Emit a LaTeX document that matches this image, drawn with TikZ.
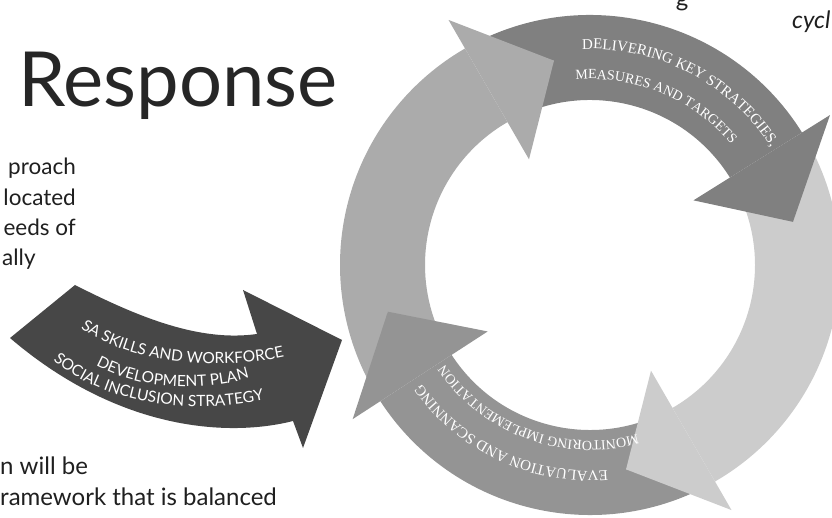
\documentclass[tikz,border=0pt]{standalone}
\usepackage{fontspec}
\setmainfont{Lato}
\newfontfamily\ringfont{Liberation Serif}
\usetikzlibrary{decorations.text}
\newcommand\ringtxt{\ringfont\fontsize{15}{15}\selectfont\color{white}}
\newcommand\ringtxtb{\ringfont\fontsize{14}{14}\selectfont\color{white}}
\newcommand\arrtxt{\fontsize{15.5}{15.5}\selectfont\color{white}}
\newcommand\ringbody[3]{%
  \fill[#3] (#1:250pt) arc[start angle=#1,end angle=#2,radius=250pt]
    -- (#2:165pt) arc[start angle=#2,end angle=#1,radius=165pt]
    -- ({#1-20}:207.5pt) -- cycle;}
\newcommand\ringhead[2]{%
  \fill[#2] (#1:283pt) -- ({#1-20}:207.5pt) -- (#1:122pt) -- cycle;}
\begin{document}
\begin{tikzpicture}[x=1pt,y=1pt,
  bodytext/.style={inner sep=0pt, font=\fontsize{24}{28}\selectfont, text=black!88},
  sidetext/.style={inner sep=0pt, font=\fontsize{22.5}{26}\selectfont, text=black!88},
  segL/.style={fill=black!33},
  segT/.style={fill=black!50},
  segR/.style={fill=black!20},
  segB/.style={fill=black!42},
  bigarrow/.style={fill=black!72}]
\useasboundingbox (0,0) rectangle (832,517);

% ---- text on the left ----
\node[inner sep=0pt, anchor=base west, font=\fontsize{76}{84}\selectfont, text=black!85] (title) at (18,410) {Response};
\node[sidetext, anchor=base east] (l1) at (76,342) {proach};
\node[sidetext, anchor=base east] (l2) at (76,311) {located};
\node[sidetext, anchor=base east] (l3) at (76,281) {eeds of};
\node[sidetext, anchor=base west] (l4) at (2,251) {ally};
\node[bodytext, anchor=base west] (l5) at (0,43) {n will be};
\node[bodytext, anchor=base west] (l6) at (0,12) {ramework that is balanced};
\node[bodytext, anchor=base] (tg) at (682,510) {g};
\node[bodytext, anchor=base west, font=\fontsize{24}{28}\selectfont\itshape] (tc) at (792,488) {cycl};

% ---- ring of four arrows ----
\coordinate (C) at (590,252);
\begin{scope}[shift={(C)}]
  \ringbody{213}{120}{segL}
  \ringbody{120}{32}{segT}
  \ringbody{32}{-60}{segR}
  \ringbody{-60}{-147}{segB}
  \ringhead{120}{segL}
  \ringhead{32}{segT}
  \ringhead{-60}{segR}
  \ringhead{-147}{segB}
  % labels along the ring
  \path[decorate, decoration={text along path, text align=center,
      text={|\ringtxt|DELIVERING KEY STRATEGIES,}}]
    (130:216pt) arc[start angle=130, end angle=-5, radius=216pt];
  \path[decorate, decoration={text along path, text align=center,
      text={|\ringtxtb|MEASURES AND TARGETS}}]
    (135:186pt) arc[start angle=135, end angle=0, radius=186pt];
  \path[decorate, decoration={text along path, text align=center,
      text={|\ringtxt|EVALUATION AND SCANNING}}]
    (-40:206pt) arc[start angle=-40, end angle=-190, radius=206pt];
  \path[decorate, decoration={text along path, text align=center,
      text={|\ringtxtb|MONITORING IMPLEMENTATION}}]
    (-35:176pt) arc[start angle=-35, end angle=-185, radius=176pt];
\end{scope}

% ---- big dark arrow ----
\fill[bigarrow] (75,232) .. controls (140,199) and (200,175) .. (257,183)
  -- (243,227) -- (342,177) -- (303,69) -- (293,96)
  .. controls (230,80) and (120,85) .. (10,179) -- cycle;
\path[decorate, decoration={text along path, text align=center,
    text={|\arrtxt|SA SKILLS AND WORKFORCE}}]
  (80,189) .. controls (140,148) and (230,148) .. (285,160);
\path[decorate, decoration={text along path, text align=center,
    text={|\arrtxt|DEVELOPMENT PLAN}}]
  (88,156) .. controls (140,124) and (210,125) .. (258,142);
\path[decorate, decoration={text along path, text align=center,
    text={|\arrtxt|SOCIAL INCLUSION STRATEGY}}]
  (45,164) .. controls (100,110) and (200,100) .. (275,120);
\end{tikzpicture}
\end{document}
